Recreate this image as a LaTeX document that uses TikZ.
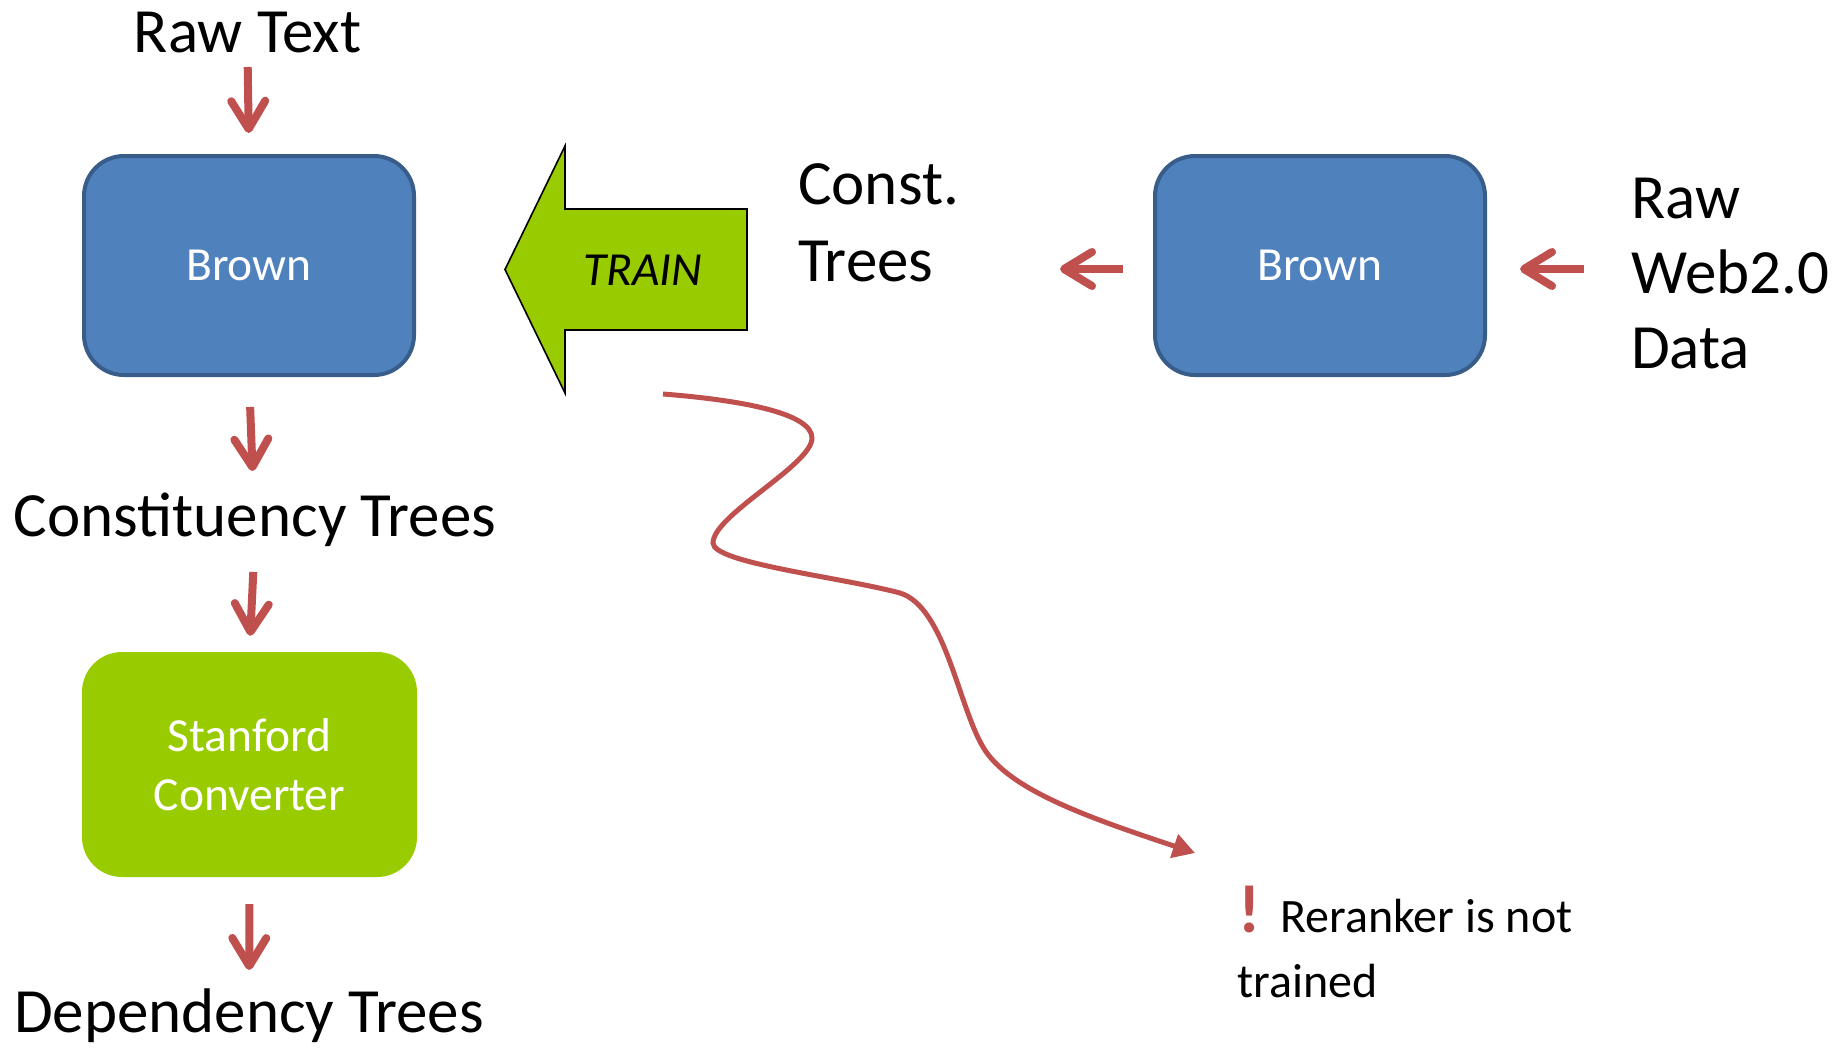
\documentclass[tikz,border=0pt]{standalone}
\usepackage{fontspec}
\setmainfont{Carlito}
\usetikzlibrary{arrows.meta,calc}

\definecolor{boxblue}{HTML}{4F81BD}
\definecolor{boxblueline}{HTML}{385D8A}
\definecolor{arrowred}{HTML}{C0504D}
\definecolor{limegreen}{HTML}{99CC00}

\tikzset{
  bigtext/.style={inner sep=0pt, font=\fontsize{63}{76}\selectfont},
  boxtext/.style={font=\fontsize{47.5}{59}\selectfont},
  brownbox/.style={rectangle, rounded corners=40pt, fill=boxblue, draw=boxblueline,
    line width=4pt, minimum width=330pt, minimum height=219pt, text=white, boxtext},
  convbox/.style={rectangle, rounded corners=40pt, fill=limegreen,
    minimum width=335pt, minimum height=225pt, text=white, align=center, boxtext},
  flowarrow/.style={draw=arrowred, line width=8pt,
    -{Straight Barb[length=28pt,width=34pt,round]}},
  trainshape/.style={fill=limegreen, draw=black, line width=1.6pt, line join=miter},
  wiggle/.style={draw=arrowred, line width=5pt, -{Triangle[length=22pt,width=24pt]}},
}

\begin{document}
\begin{tikzpicture}[x=1pt,y=-1pt]
\useasboundingbox (0,0) rectangle (1846,1047);

% left column: parser pipeline
\node[bigtext, anchor=base] (rawtext) at (247.5,52) {Raw Text};
\node[brownbox] (brownL) at (249,265.5) {Brown};
\node[bigtext, anchor=base] (ctrees) at (255,536) {Constituency Trees};
\node[convbox] (stanford) at (249.5,764.5) {Stanford\\Converter};
\node[bigtext, anchor=base] (dtrees) at (249,1032) {Dependency Trees};

\draw[flowarrow, shorten <=15pt, shorten >=21pt] (rawtext.base) -- (brownL.north);
\draw[flowarrow, shorten <=30pt, shorten >=65pt] (brownL.south) -- (ctrees.base);
\draw[flowarrow, shorten <=36pt, shorten >=16pt] (ctrees.base) -- (stanford.north);
\draw[flowarrow, shorten <=27pt, shorten >=62pt] (stanford.south) -- (dtrees.base);

% right side: parsing web data
\node[brownbox] (brownR) at (1320,265.5) {Brown};
\node[bigtext, anchor=north west, align=left, font=\fontsize{63}{77}\selectfont]
  (consttrees) at (798,163) {Const.\\Trees};
\node[bigtext, anchor=north west, align=left, font=\fontsize{63}{75}\selectfont]
  (rawweb) at (1631,178) {Raw\\Web2.0\\Data};

\coordinate (cLeftTip) at (1060,269);
\coordinate (cRightTail) at (1584,269);
\draw[flowarrow] (brownR.west |- cLeftTip) ++(-30,0) -- (cLeftTip);
\draw[flowarrow, shorten >=33pt] (cRightTail) -- (brownR.east |- cRightTail);

% training arrow
\draw[trainshape] (505,269.5) -- (565,146) -- (565,209) -- (747,209)
  -- (747,330) -- (565,330) -- (565,393) -- cycle;
\node[anchor=base, font=\fontsize{47.5}{52}\selectfont\itshape] (train) at (643,285) {TRAIN};

% note about the reranker
\coordinate (wstart) at (663,394);
\coordinate (wend) at (1195,853);
\draw[wiggle] (wstart)
  .. controls (740,400) and (812,413) .. (812,438)
  .. controls (812,465) and (713,515) .. (713,543)
  .. controls (713,563) and (840,577) .. (900,593)
  .. controls (945,607) and (958,705) .. (983,747)
  .. controls (1008,790) and (1090,818) .. (wend);

\node[anchor=base west, inner sep=0pt, align=left, font=\fontsize{48}{65}\selectfont]
  (note) at (1237,997)
  {\hspace*{1pt}{\color{arrowred}\fontsize{68}{65}\selectfont\bfseries !}\hspace*{20pt}Reranker is not\\trained};
\end{tikzpicture}
\end{document}
